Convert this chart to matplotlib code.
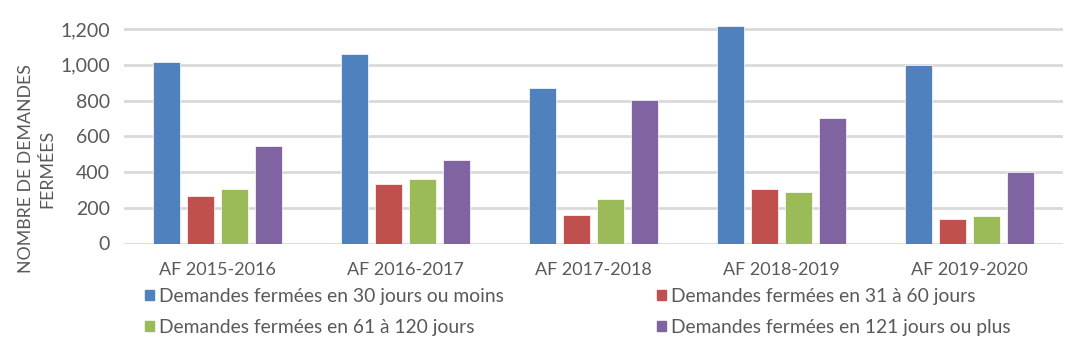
import numpy as np
import matplotlib.pyplot as plt
from matplotlib.patches import Patch

plt.rcParams['font.family'] = ['Lato', 'DejaVu Sans']

annees = ['AF 2015-2016', 'AF 2016-2017', 'AF 2017-2018', 'AF 2018-2019', 'AF 2019-2020']
moins_30 = [1015, 1060, 868, 1218, 999]
de_31_60 = [266, 335, 158, 307, 139]
de_61_120 = [305, 362, 249, 288, 152]
plus_121 = [547, 470, 802, 700, 400]

series = [moins_30, de_31_60, de_61_120, plus_121]
labels = ['Demandes fermées en 30 jours ou moins', 'Demandes fermées en 31 à 60 jours',
          'Demandes fermées en 61 à 120 jours', 'Demandes fermées en 121 jours ou plus']
couleurs = ['#4F81BD', '#C0504D', '#9BBB59', '#8064A2']
gris = '#595959'

fig = plt.figure(figsize=(10.76, 3.55), dpi=100)
ax = fig.add_axes([124 / 1076, 1 - 243.5 / 355, (1063 - 124) / 1076, 221.5 / 355])

x = np.arange(len(annees))
pas = 0.181
larg = 0.144
for i, vals in enumerate(series):
    ax.bar(x + (i - 1.5) * pas, vals, width=larg, color=couleurs[i], zorder=3,
           edgecolor='white', linewidth=0.5)

ax.set_xlim(-0.5, 4.5)
ax.set_ylim(0, 1240)
ax.set_yticks(range(0, 1201, 200))
ax.set_yticklabels(['{:,}'.format(v) for v in range(0, 1201, 200)])
ax.set_xticks(x)
ax.set_xticklabels(annees, fontsize=13)
ax.grid(axis='y', color='#D9D9D9', linewidth=2, zorder=0)
for s in ax.spines.values():
    s.set_visible(False)
ax.tick_params(axis='both', length=0, labelsize=14, labelcolor=gris)
ax.tick_params(axis='x', labelsize=13, pad=13)
ax.tick_params(axis='y', pad=10)

fig.text(37 / 1076, 1 - 169 / 355, 'NOMBRE DE DEMANDES\nFERMÉES', rotation=90, ha='center', va='center',
         fontsize=12.8, color=gris, linespacing=1.4, multialignment='center')

# ordre ligne par ligne comme dans l'original
ordre = [0, 2, 1, 3]
handles = [Patch(color=couleurs[i]) for i in ordre]
leg = fig.legend(handles, [labels[i] for i in ordre], ncol=2, loc='upper left',
                 bbox_to_anchor=(145 / 1076, 1 - 288 / 355),
                 frameon=False, fontsize=13.9, handlelength=0.45, handleheight=0.45, handletextpad=0.3,
                 columnspacing=7.9, labelspacing=0.72, borderaxespad=0, borderpad=0)
for t in leg.get_texts():
    t.set_color(gris)

plt.savefig('out.png', dpi=100)
